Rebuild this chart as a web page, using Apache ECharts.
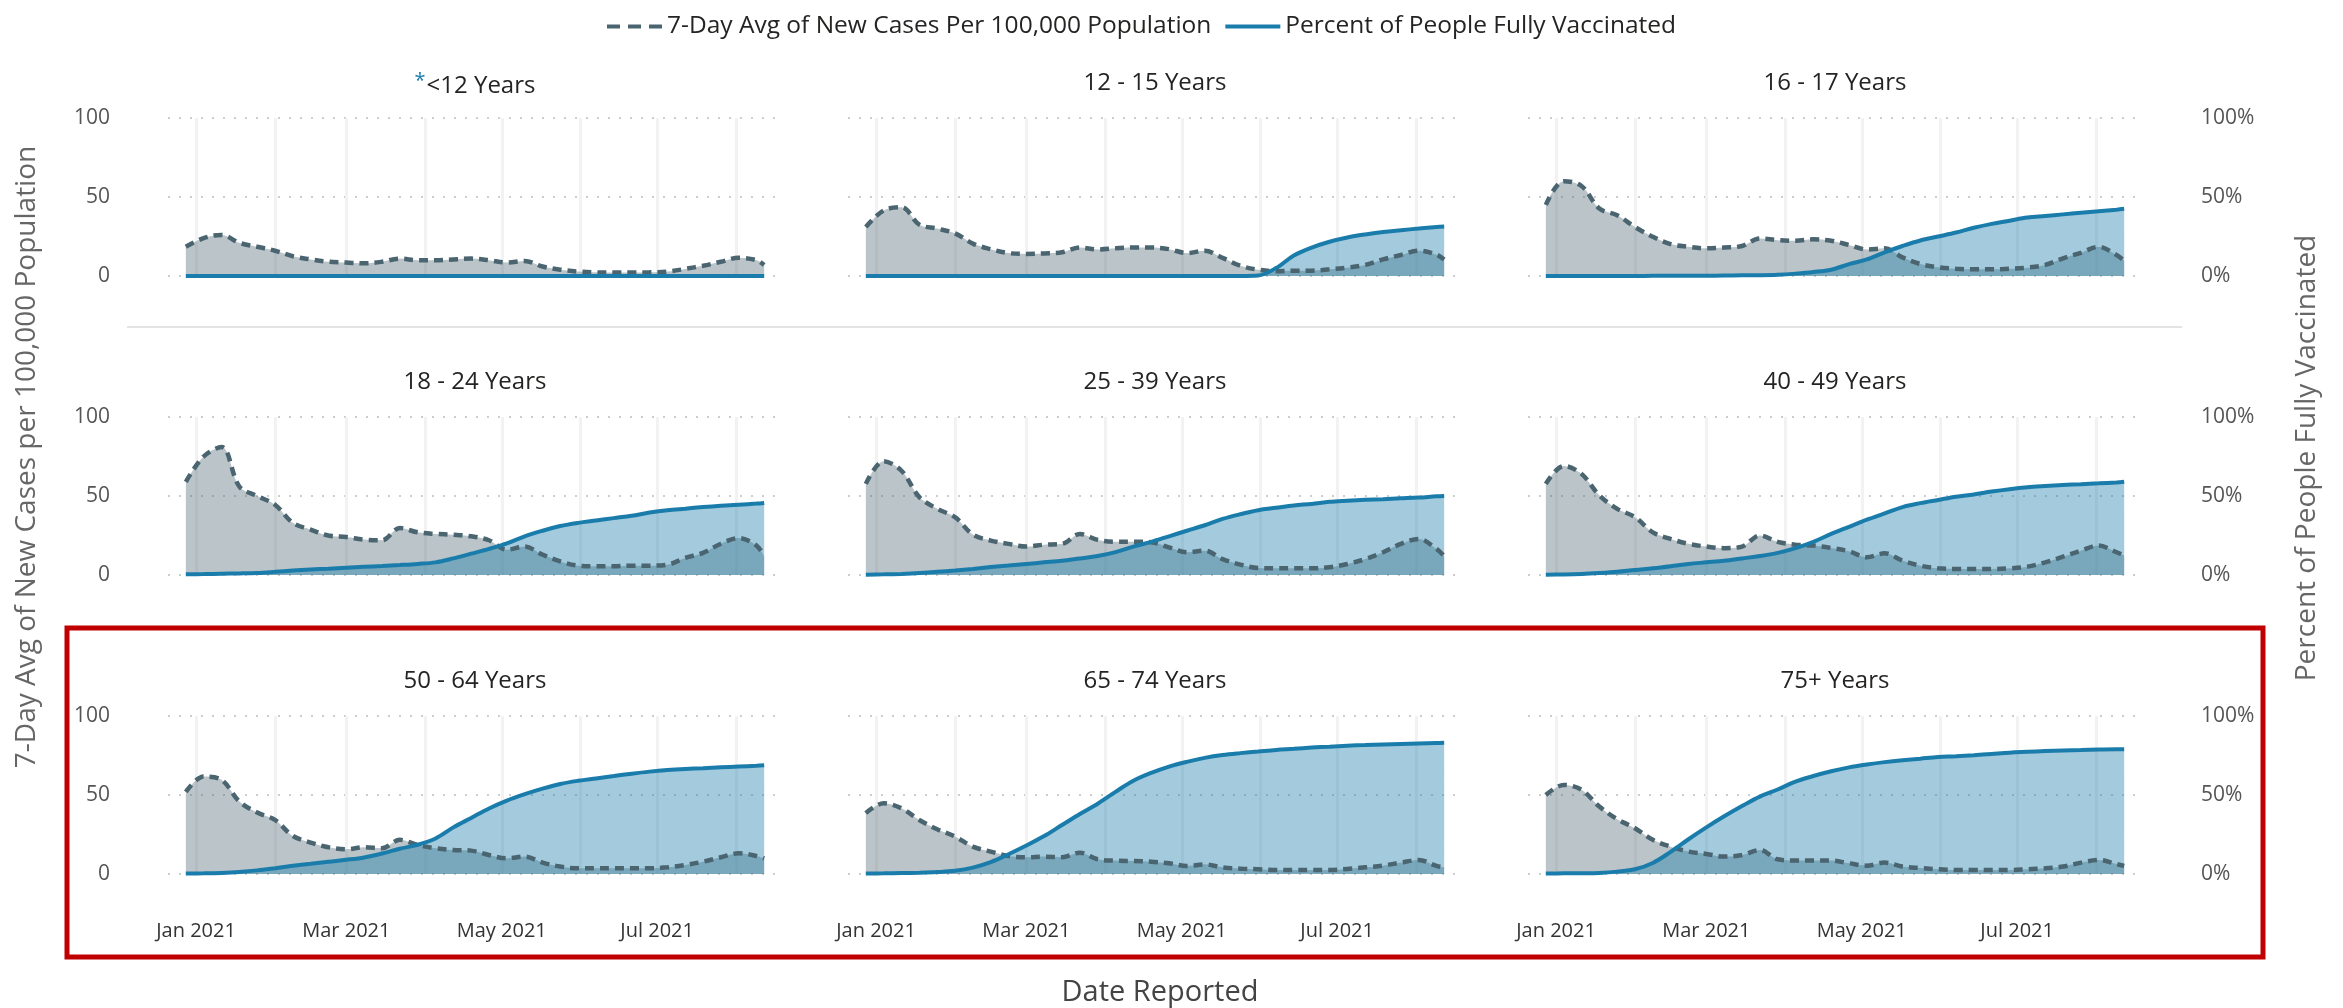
<!DOCTYPE html>
<html>
<head>
<meta charset="utf-8">
<title>Cases and vaccination by age group</title>
<script src="https://cdn.jsdelivr.net/npm/echarts@6/dist/echarts.min.js"></script>
<style>
  html, body { margin: 0; padding: 0; background: #ffffff; }
  #main { width: 2343px; height: 1008px; }
</style>
</head>
<body>
<div id="main"></div>
<script>
// weekly report dates
var dates = ['2020-12-28', '2021-01-04', '2021-01-11', '2021-01-18', '2021-01-25', '2021-02-01',
  '2021-02-08', '2021-02-15', '2021-02-22', '2021-03-01', '2021-03-08', '2021-03-15', '2021-03-22',
  '2021-03-29', '2021-04-05', '2021-04-12', '2021-04-19', '2021-04-26', '2021-05-03', '2021-05-10',
  '2021-05-17', '2021-05-24', '2021-05-31', '2021-06-07', '2021-06-14', '2021-06-21', '2021-06-28',
  '2021-07-05', '2021-07-12', '2021-07-19', '2021-07-26', '2021-08-02', '2021-08-09', '2021-08-12'];

var ageGroups = ['<12 Years', '12 - 15 Years', '16 - 17 Years', '18 - 24 Years', '25 - 39 Years',
  '40 - 49 Years', '50 - 64 Years', '65 - 74 Years', '75+ Years'];

// 7-day avg of new cases per 100,000
var casesU12  = [18.5, 24, 26, 21, 18.5, 16, 12.5, 10.5, 9, 8.5, 8, 9, 11, 10, 10, 10.5, 11, 10, 8.5, 9.5, 6, 4, 2.8, 2.3, 2.2, 2.2, 2.3, 2.8, 4.5, 6.5, 9, 11.5, 10, 7];
var cases1215 = [31, 41.5, 43.5, 32.5, 30, 27, 20.5, 17, 14.5, 14, 14.3, 15, 18, 16.8, 17.5, 18, 18, 17, 14.5, 16, 11.5, 6.5, 4, 3, 3.3, 3.4, 4.2, 5.3, 7, 10.5, 13.3, 16, 13.5, 10.5];
var cases1617 = [45, 60, 57, 42.7, 38.5, 31, 24.8, 20.2, 18.5, 17.5, 18, 19, 23.8, 22.7, 22.3, 23.2, 22.3, 19.6, 16.8, 17.5, 11.8, 7.6, 5.5, 4.6, 4.2, 4.2, 4.6, 5.3, 7, 11.2, 14.7, 18.5, 13.3, 9.7];
var cases1824 = [59, 75, 81, 56, 50, 44.5, 33, 28.7, 25, 24, 22.4, 22, 29.7, 27, 26, 25.5, 24.5, 22, 16, 18, 12.9, 8.6, 5.9, 5.5, 5.5, 5.9, 5.9, 6.5, 10.8, 14, 19.8, 23.4, 18.6, 11.8];
var cases2539 = [57.7, 72, 66, 49.3, 41.9, 36.6, 25.6, 21.8, 19.7, 18, 19.2, 19.7, 26, 22.2, 21.1, 21.1, 20.7, 17.5, 14.4, 15.4, 10.1, 6.6, 4.4, 4.2, 4.2, 4.2, 4.9, 7, 10.1, 14.4, 19.7, 22.8, 16.5, 12];
var cases4049 = [57.7, 69, 64, 50.4, 41.9, 36.6, 27, 22.8, 19.7, 18, 17, 18, 25, 21, 19.2, 18.6, 17.1, 15, 11.2, 13.7, 9.1, 5.9, 4.2, 3.8, 3.8, 3.8, 4.2, 5.3, 8, 11.6, 15.4, 18.6, 14.4, 12.3];
var cases5064 = [52, 61.7, 59.6, 45.9, 38.9, 34.2, 24.1, 19.9, 16.9, 15.6, 16.9, 16.3, 21.6, 18.4, 16.3, 15.2, 14.8, 12, 9.9, 11, 7.2, 4.7, 3.6, 3.6, 3.6, 3.6, 3.6, 4.2, 5.7, 7.8, 10.6, 13.1, 11.4, 9.9];
var cases6574 = [38.5, 44.8, 41.6, 34.2, 28.3, 23.7, 17.3, 14.2, 11.4, 10.6, 11, 10.6, 13.5, 9.3, 8.5, 8.2, 7.8, 6.8, 5.1, 6.1, 4.2, 3.4, 3, 2.5, 2.5, 2.5, 2.5, 3.2, 4.2, 5.3, 7.2, 8.9, 5.1, 4.2];
var cases75   = [50, 56.4, 53.3, 42.7, 34.7, 29, 21.6, 17.3, 14.2, 12.7, 11, 12, 15.2, 9.3, 8.5, 8.5, 8.5, 6.8, 5.3, 7.2, 4.7, 3.8, 3, 2.5, 2.5, 2.5, 2.5, 3, 3.6, 4.7, 7.2, 8.9, 6.3, 5.1];

// percent of people fully vaccinated
var vaxU12  = [0, 0, 0, 0, 0, 0, 0, 0, 0, 0, 0, 0, 0, 0, 0, 0, 0, 0, 0, 0, 0, 0, 0, 0, 0, 0, 0, 0, 0, 0, 0, 0, 0, 0];
var vax1215 = [0, 0, 0, 0, 0, 0, 0, 0, 0, 0, 0, 0, 0, 0, 0, 0, 0, 0, 0, 0, 0, 0, 0.3, 5, 13, 18, 21.7, 24.4, 26.3, 27.8, 29, 30, 31, 31.3];
var vax1617 = [0, 0, 0, 0, 0, 0, 0.1, 0.1, 0.2, 0.2, 0.3, 0.4, 0.5, 0.8, 1.5, 2.5, 4, 7.5, 10.5, 15, 19, 22.5, 25, 27.5, 30.5, 33, 35, 37, 38, 39, 40, 41, 42, 42.5];
var vax1824 = [0.5, 0.6, 0.8, 1, 1.3, 2, 2.8, 3.5, 4, 4.6, 5.2, 5.7, 6.3, 7, 8, 10.5, 13.5, 16.5, 20, 24.5, 28, 31, 33, 34.5, 36, 37.5, 39.5, 41, 42, 43, 43.8, 44.5, 45.2, 45.6];
var vax2539 = [0.2, 0.4, 0.7, 1.2, 2, 2.8, 3.8, 5, 6, 7, 8, 9, 10.5, 12, 14.5, 18, 21, 24.5, 28, 31.5, 35.5, 38.5, 41, 42.5, 44, 45, 46.3, 47, 47.6, 48, 48.5, 49, 49.8, 50];
var vax4049 = [0.2, 0.3, 0.6, 1.2, 2, 3.2, 4.2, 5.5, 7, 8, 9, 10.5, 12, 14, 17, 21, 26, 30.5, 35, 39, 43, 45.5, 47.5, 49.5, 51, 52.8, 54.3, 55.5, 56.3, 57, 57.5, 58, 58.6, 59];
var vax5064 = [0.3, 0.4, 0.7, 1.3, 2.3, 3.7, 5.2, 6.5, 7.8, 9, 10.5, 13, 16, 18.5, 22.5, 29.5, 35.5, 41.5, 46.5, 50.5, 54, 57, 59, 60.5, 62, 63.5, 64.8, 65.8, 66.5, 67, 67.5, 68, 68.5, 68.8];
var vax6574 = [0.3, 0.4, 0.6, 0.8, 1.2, 2, 4, 7.5, 12.5, 18, 24, 31, 38, 44.5, 52, 59, 64, 68, 71, 73.5, 75.3, 76.5, 77.5, 78.5, 79.2, 80, 80.6, 81.2, 81.6, 82, 82.3, 82.6, 82.9, 83];
var vax75   = [0.3, 0.4, 0.5, 0.7, 1.5, 3, 7, 14, 22, 29.5, 36.5, 43, 49, 53.5, 58.5, 62, 65, 67.5, 69.3, 70.8, 72, 73, 74, 74.5, 75.2, 76, 76.8, 77.3, 77.8, 78.2, 78.5, 78.8, 79, 79];

var leftTicks = [0, 50, 100];
var rightTicks = ['0%', '50%', '100%'];
var monthNames = ['Jan', 'Feb', 'Mar', 'Apr', 'May', 'Jun', 'Jul', 'Aug', 'Sep', 'Oct', 'Nov', 'Dec'];

var casesName = '7-Day Avg of New Cases Per 100,000 Population';
var vaxName = 'Percent of People Fully Vaccinated';

var casesList = [casesU12, cases1215, cases1617, cases1824, cases2539, cases4049, cases5064, cases6574, cases75];
var vaxList = [vaxU12, vax1215, vax1617, vax1824, vax2539, vax4049, vax5064, vax6574, vax75];

var FONT = "'Open Sans', 'Noto Sans', sans-serif";
var caseColor = '#4a6470';
var vaxColor = '#1a7cab';

function pairs(vals) {
  return vals.map(function (v, i) { return [dates[i], v]; });
}

function buildOption() {
  var grids = [], xAxes = [], yAxes = [], series = [], titles = [];

  for (var i = 0; i < 9; i++) {
    var row = Math.floor(i / 3);
    var col = i % 3;
    var gLeft = 168 + 680 * col;
    var gTop = 118 + 299 * row;

    grids.push({ left: gLeft, top: gTop, width: 614, height: 158 });

    titles.push({
      text: i === 0 ? '{s|*}' + ageGroups[i] : ageGroups[i],
      left: gLeft + 307,
      top: gTop - 47,
      textAlign: 'center',
      padding: 0,
      textStyle: {
        fontFamily: FONT, fontSize: 24, fontWeight: 'normal', color: '#252423',
        rich: { s: { fontFamily: FONT, fontSize: 20, color: vaxColor, padding: [0, 1, 10, 0] } }
      }
    });

    xAxes.push({
      type: 'time',
      gridIndex: i,
      min: '2020-12-21',
      max: '2021-08-19',
      splitNumber: 8,
      axisLine: { show: false },
      axisTick: { show: false },
      axisLabel: {
        show: row === 2,
        margin: 47,
        fontFamily: FONT,
        fontSize: 20,
        color: '#333333',
        showMinLabel: false,
        showMaxLabel: false,
        formatter: function (val) {
          var d = new Date(val);
          if (d.getDate() !== 1 || d.getMonth() % 2 !== 0) return '';
          return monthNames[d.getMonth()] + ' ' + d.getFullYear();
        }
      },
      splitLine: { show: true, showMinLine: false, showMaxLine: false, lineStyle: { color: '#f2f2f2', width: 3 } }
    });

    yAxes.push({
      type: 'value',
      gridIndex: i,
      position: 'left',
      min: 0,
      max: 100,
      interval: 50,
      axisLine: { show: false },
      axisTick: { show: false },
      axisLabel: { show: col === 0, margin: 58, fontFamily: FONT, fontSize: 21, color: '#555555' },
      splitLine: { show: true, lineStyle: { color: '#bdbdbd', width: 1.5, type: [2, 9] } }
    });
    yAxes.push({
      type: 'value',
      gridIndex: i,
      position: 'right',
      min: 0,
      max: 100,
      interval: 50,
      axisLine: { show: false },
      axisTick: { show: false },
      axisLabel: {
        show: col === 2, margin: 59, fontFamily: FONT, fontSize: 21, color: '#555555',
        formatter: function (v) { return rightTicks[leftTicks.indexOf(v)]; }
      },
      splitLine: { show: false }
    });

    // filled areas first, lines on top
    series.push({
      name: 'casesArea', type: 'line', xAxisIndex: i, yAxisIndex: 2 * i,
      data: pairs(casesList[i]), smooth: 0.35, symbol: 'none', silent: true, z: 1,
      lineStyle: { width: 0 },
      areaStyle: { color: caseColor, opacity: 0.38 }
    });
    series.push({
      name: 'vaxArea', type: 'line', xAxisIndex: i, yAxisIndex: 2 * i + 1,
      data: pairs(vaxList[i]), smooth: 0.35, symbol: 'none', silent: true, z: 1,
      lineStyle: { width: 0 },
      areaStyle: { color: vaxColor, opacity: 0.4 }
    });
    series.push({
      name: casesName, type: 'line', xAxisIndex: i, yAxisIndex: 2 * i,
      data: pairs(casesList[i]), smooth: 0.35, symbol: 'none', z: 3,
      lineStyle: { color: caseColor, width: 4.5, type: [9, 6] },
      itemStyle: { color: caseColor }
    });
    series.push({
      name: vaxName, type: 'line', xAxisIndex: i, yAxisIndex: 2 * i + 1,
      data: pairs(vaxList[i]), smooth: 0.35, symbol: 'none', z: 4,
      lineStyle: { color: vaxColor, width: 4 },
      itemStyle: { color: vaxColor }
    });
  }

  return {
    backgroundColor: '#ffffff',
    animation: false,
    title: titles,
    legend: {
      data: [
        { name: casesName, icon: 'path://M0,0h13v4h-13z M21,0h13v4h-13z M42,0h13v4h-13z', itemStyle: { color: caseColor } },
        { name: vaxName, icon: 'path://M0,0h55v4h-55z', itemStyle: { color: vaxColor } }
      ],
      left: 602,
      top: 9,
      itemWidth: 55,
      itemHeight: 4,
      itemGap: 14,
      textStyle: { fontFamily: FONT, fontSize: 24.5, color: '#252423' }
    },
    grid: grids,
    xAxis: xAxes,
    yAxis: yAxes,
    series: series,
    graphic: [
      { type: 'line', shape: { x1: 127, y1: 327, x2: 2182, y2: 327 }, style: { stroke: '#e3e3e3', lineWidth: 2 }, silent: true },
      { type: 'rect', shape: { x: 67, y: 628, width: 2196, height: 329 }, style: { fill: 'none', stroke: '#c00000', lineWidth: 5 }, silent: true },
      { type: 'text', x: 27, y: 457, rotation: Math.PI / 2,
        style: { text: '7-Day Avg of New Cases per 100,000 Population', fontFamily: FONT, fontSize: 28, fill: '#666666', align: 'center', verticalAlign: 'middle' } },
      { type: 'text', x: 2307, y: 458, rotation: Math.PI / 2,
        style: { text: 'Percent of People Fully Vaccinated', fontFamily: FONT, fontSize: 28, fill: '#666666', align: 'center', verticalAlign: 'middle' } },
      { type: 'text', x: 1160, y: 993,
        style: { text: 'Date Reported', fontFamily: FONT, fontSize: 29, fill: '#444444', align: 'center', verticalAlign: 'middle' } }
    ]
  };
}

var chart = echarts.init(document.getElementById('main'), null, { renderer: 'canvas' });
chart.setOption(buildOption());
</script>
</body>
</html>
